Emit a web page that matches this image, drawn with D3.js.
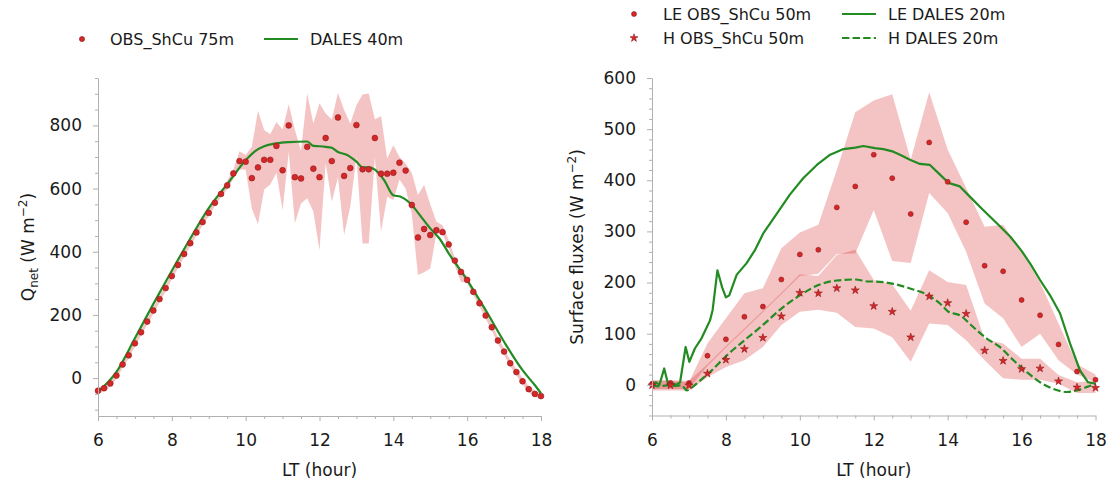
<!DOCTYPE html>
<html><head><meta charset="utf-8">
<script src="https://cdn.jsdelivr.net/npm/d3@7"></script>
<style>body{margin:0;background:#fff} text{font-family:"DejaVu Sans",sans-serif;fill:#1a1a1a}</style>
</head><body><svg id="c" width="1110" height="484"></svg>
<script>
// ---------- Left panel data (Q_net), 10-min observations 06:00-18:00 ----------
const obsQ   = [-40,-32,-17,8,43,72,110,145,179,214,250,285,323,358,393,427,461,494,523,555,583,610,648,687,685,633,667,691,691,735,658,800,636,632,732,663,636,760,687,825,640,665,801,661,661,760,647,647,650,682,657,548,445,472,453,468,462,423,372,336,311,273,237,198,161,119,84,47,19,-10,-35,-50,-57];
const obsQlo = [-50,-42,-27,-2,33,62,100,135,169,204,240,275,313,348,383,417,451,484,513,545,573,598,630,660,660,537,487,597,613,650,532,716,490,553,569,527,405,680,558,636,453,543,700,426,426,700,463,574,564,629,600,520,326,335,347,458,455,413,355,305,301,263,227,188,151,109,74,37,9,-20,-45,-60,-67];
const obsQhi = [-30,-22,-7,18,53,82,120,155,189,224,260,295,333,368,403,437,471,504,533,565,593,625,660,718,706,732,846,785,772,811,787,867,785,720,901,806,870,838,819,903,849,806,864,898,901,819,830,695,737,700,679,650,580,611,550,495,484,437,380,345,321,283,247,208,171,129,94,57,29,0,-25,-40,-47];
const obsQt  = d3.range(obsQ.length).map(i => 6 + i / 6);
const dalesQt = [6.0,6.5,7.0,7.5,8.0,8.5,9.0,9.5,10.0,10.25,10.5,10.83,11.17,11.67,11.83,12.0,12.17,12.33,12.5,12.75,13.0,13.17,13.33,13.5,13.75,14.0,14.2,14.5,14.75,15.0,15.25,15.5,16.0,16.5,17.0,17.5,17.83,18.0];
const dalesQv = [-43,20,126,235,340,442,538,614,690,718,734,743,747,749,735,734,732,729,716,706,685,667,667,660,627,579,574,548,511,474,442,395,310,215,115,25,-22,-48];

// ---------- Right panel data (surface fluxes), 30-min observations ----------
const fluxT = [6,6.5,7,7.5,8,8.5,9,9.5,10,10.5,11,11.5,12,12.5,13,13.5,14,14.5,15,15.5,16,16.5,17,17.5,18];
const leObs = [2,3.5,3.5,57,89,133,153,206,255,264,347,388,450,404,334,474,397,318,233,222,166,136,79,26,10];
const hObs  = [-1,-1,-1,22,49,70,92,134,180,179,189,185,154,143,93,173,160,139,67,47,31,32,7,-5,-6];
const leLo  = [-8,-8,-8,37,73,107,142,177,213,217,256,257,342,242,238,375,336,260,159,130,74,100,48,20,5];
const leHi  = [8,8,5,81,130,179,189,267,298,313,420,533,556,568,440,572,460,385,309,313,260,200,120,40,20];
const hLo   = [-11,-11,-11,15,35,48,74,117,143,147,141,113,110,93,45,120,117,87,48,13,10,10,2,-16,-16];
const hHi   = [9,9,8,40,76,110,145,180,216,213,254,264,205,196,145,224,201,195,89,81,51,51,19,5,8];
const dalesLEt = [6.0,6.1,6.2,6.33,6.44,6.55,6.65,6.76,6.91,7.01,7.16,7.34,7.57,7.64,7.77,7.9,8.0,8.09,8.29,8.56,8.79,9.01,9.42,9.73,10.09,10.46,10.82,11.18,11.5,11.72,12.03,12.26,12.53,12.71,12.98,13.25,13.52,13.75,14.02,14.33,14.6,14.96,15.33,15.69,16.0,16.25,16.5,16.77,17.04,17.31,17.58,17.8,18.0];
const dalesLEv = [-1,5,0,32,0,3,0,5,74,45,71,91,126,146,224,190,171,175,215,238,264,296,339,372,404,430,450,461,464,467,463,461,456,450,440,432,430,414,395,388,368,342,316,290,262,235,205,175,140,81,28,5,2];
const dalesHt = [6.0,6.2,6.4,6.6,6.8,6.94,7.1,7.25,7.57,8.0,8.5,9.0,9.5,10.0,10.5,11.0,11.5,11.86,12.0,12.5,13.0,13.45,13.79,14.02,14.33,14.69,15.05,15.41,15.78,16.14,16.5,16.86,17.22,17.5,17.77,18.0];
const dalesHv = [-1,-3,-1,-2,-1,-11,-4,5,25,56,87,117,149,175,195,204,206,202,202,198,188,176,159,143,136,113,91,74,48,25,5,-8,-14,-11,-4,3];

// ---------- Tick labels ----------
const xTicks = [6,8,10,12,14,16,18];
const qTicks = [0,200,400,600,800];
const fTicks = [0,100,200,300,400,500,600];

const svg = d3.select("#c");
const RED = "#d62728", EDGE = "#8e1b1c", GREEN = "#228b22", AXC = "#b0b0b0";
const FS = 17;

function axes(g, x, y, yTicks, yMinorStep, xlab) {
  const [y0, y1] = y.domain();
  const minorY = d3.range(Math.ceil(y0 / yMinorStep) * yMinorStep, y1 + 0.001, yMinorStep).filter(v => !yTicks.includes(v));
  const minorX = d3.range(6, 18.01, 0.5).filter(v => !xTicks.includes(v));
  const xb = y.range()[0], yl = x.range()[0];
  g.append("g").attr("transform", `translate(0,${xb})`)
    .call(d3.axisBottom(x).tickValues(minorX).tickSize(3).tickFormat("").tickSizeOuter(0))
    .call(s => { s.select(".domain").remove(); s.selectAll("line").attr("stroke", AXC); });
  g.append("g").attr("transform", `translate(${yl},0)`)
    .call(d3.axisLeft(y).tickValues(minorY).tickSize(3).tickFormat("").tickSizeOuter(0))
    .call(s => { s.select(".domain").remove(); s.selectAll("line").attr("stroke", AXC); });
  g.append("g").attr("transform", `translate(0,${xb})`)
    .call(d3.axisBottom(x).tickValues(xTicks).tickSize(5).tickPadding(13).tickSizeOuter(0))
    .call(s => { s.select(".domain").attr("stroke", AXC); s.selectAll("line").attr("stroke", AXC);
      s.selectAll("text").attr("font-size", FS).attr("font-family", "DejaVu Sans").attr("fill", "#1a1a1a"); });
  g.append("g").attr("transform", `translate(${yl},0)`)
    .call(d3.axisLeft(y).tickValues(yTicks).tickSize(5).tickPadding(11).tickSizeOuter(0))
    .call(s => { s.select(".domain").attr("stroke", AXC); s.selectAll("line").attr("stroke", AXC);
      s.selectAll("text").attr("font-size", FS).attr("font-family", "DejaVu Sans").attr("fill", "#1a1a1a"); });
  g.append("text").attr("x", (x.range()[0] + x.range()[1]) / 2).attr("y", 476)
    .attr("text-anchor", "middle").attr("font-size", FS).text(xlab);
}

// ================= LEFT PANEL =================
const xL = d3.scaleLinear().domain([6, 18]).range([98, 541]);
const yL = d3.scaleLinear().domain([-120, 950]).range([416, 78]);
const gL = svg.append("g");
gL.append("path").datum(obsQ.map((v, i) => i))
  .attr("d", d3.area().x(i => xL(obsQt[i])).y0(i => yL(obsQlo[i])).y1(i => yL(obsQhi[i])))
  .attr("fill", RED).attr("fill-opacity", 0.28);
gL.append("path").datum(dalesQt.map((t, i) => [t, dalesQv[i]]))
  .attr("d", d3.line().x(d => xL(d[0])).y(d => yL(d[1])).curve(d3.curveMonotoneX))
  .attr("fill", "none").attr("stroke", GREEN).attr("stroke-width", 2.2);
gL.selectAll("circle.o").data(obsQ).join("circle")
  .attr("cx", (d, i) => xL(obsQt[i])).attr("cy", d => yL(d)).attr("r", 2.9)
  .attr("fill", RED).attr("stroke", EDGE).attr("stroke-width", 0.6);
axes(gL, xL, yL, qTicks, 50, "LT (hour)");
const tq = gL.append("text").attr("transform", "translate(34,247) rotate(-90)")
  .attr("text-anchor", "middle").attr("font-size", FS);
tq.append("tspan").text("Q");
tq.append("tspan").attr("font-size", 12).attr("dy", 4).text("net");
tq.append("tspan").attr("dy", -4).text(" (W m");
tq.append("tspan").attr("font-size", 12).attr("dy", -7).text("−2");
tq.append("tspan").attr("dy", 7).text(")");

gL.append("circle").attr("cx", 82).attr("cy", 39).attr("r", 2.6).attr("fill", RED).attr("stroke", EDGE).attr("stroke-width", 0.6);
gL.append("text").attr("x", 110).attr("y", 45).attr("font-size", 16).text("OBS_ShCu 75m");
gL.append("line").attr("x1", 264).attr("x2", 298).attr("y1", 39).attr("y2", 39).attr("stroke", GREEN).attr("stroke-width", 2.2);
gL.append("text").attr("x", 310).attr("y", 45).attr("font-size", 16).text("DALES 40m");

// ================= RIGHT PANEL =================
const xR = d3.scaleLinear().domain([6, 18]).range([652, 1095.5]);
const yR = d3.scaleLinear().domain([-60, 600]).range([415.5, 78]);
const gR = svg.append("g");
const idx = fluxT.map((t, i) => i);
gR.append("path").datum(idx)
  .attr("d", d3.area().x(i => xR(fluxT[i])).y0(i => yR(leLo[i])).y1(i => yR(leHi[i])))
  .attr("fill", RED).attr("fill-opacity", 0.28);
gR.append("path").datum(idx)
  .attr("d", d3.area().x(i => xR(fluxT[i])).y0(i => yR(hLo[i])).y1(i => yR(hHi[i])))
  .attr("fill", RED).attr("fill-opacity", 0.28);
gR.append("path").datum(dalesLEt.map((t, i) => [t, dalesLEv[i]]))
  .attr("d", d3.line().x(d => xR(d[0])).y(d => yR(d[1])))
  .attr("fill", "none").attr("stroke", GREEN).attr("stroke-width", 2.2).attr("stroke-linejoin", "round");
gR.append("path").datum(dalesHt.map((t, i) => [t, dalesHv[i]]))
  .attr("d", d3.line().x(d => xR(d[0])).y(d => yR(d[1])).curve(d3.curveMonotoneX))
  .attr("fill", "none").attr("stroke", GREEN).attr("stroke-width", 2.2).attr("stroke-dasharray", "7.4,3.2");
gR.selectAll("circle.le").data(leObs).join("circle")
  .attr("cx", (d, i) => xR(fluxT[i])).attr("cy", d => yR(d)).attr("r", 2.5)
  .attr("fill", RED).attr("stroke", EDGE).attr("stroke-width", 0.6);
const star = d3.symbol().type(d3.symbolStar).size(20);
gR.selectAll("path.h").data(hObs).join("path")
  .attr("transform", (d, i) => `translate(${xR(fluxT[i])},${yR(d)})`).attr("d", star)
  .attr("fill", RED).attr("stroke", EDGE).attr("stroke-width", 0.6);
axes(gR, xR, yR, fTicks, 20, "LT (hour)");
const tf = gR.append("text").attr("transform", "translate(583,247) rotate(-90)")
  .attr("text-anchor", "middle").attr("font-size", FS);
tf.append("tspan").text("Surface fluxes (W m");
tf.append("tspan").attr("font-size", 12).attr("dy", -7).text("−2");
tf.append("tspan").attr("dy", 7).text(")");

gR.append("circle").attr("cx", 634).attr("cy", 14).attr("r", 2.5).attr("fill", RED).attr("stroke", EDGE).attr("stroke-width", 0.6);
gR.append("text").attr("x", 663).attr("y", 20).attr("font-size", 16).text("LE OBS_ShCu 50m");
gR.append("path").attr("transform", "translate(634,38)").attr("d", star).attr("fill", RED).attr("stroke", EDGE).attr("stroke-width", 0.6);
gR.append("text").attr("x", 663).attr("y", 44).attr("font-size", 16).text("H OBS_ShCu 50m");
gR.append("line").attr("x1", 842).attr("x2", 876).attr("y1", 14).attr("y2", 14).attr("stroke", GREEN).attr("stroke-width", 2.2);
gR.append("text").attr("x", 888).attr("y", 20).attr("font-size", 16).text("LE DALES 20m");
gR.append("line").attr("x1", 842).attr("x2", 876).attr("y1", 38).attr("y2", 38).attr("stroke", GREEN).attr("stroke-width", 2.2).attr("stroke-dasharray", "7.4,3.2");
gR.append("text").attr("x", 888).attr("y", 44).attr("font-size", 16).text("H DALES 20m");
</script></body></html>
